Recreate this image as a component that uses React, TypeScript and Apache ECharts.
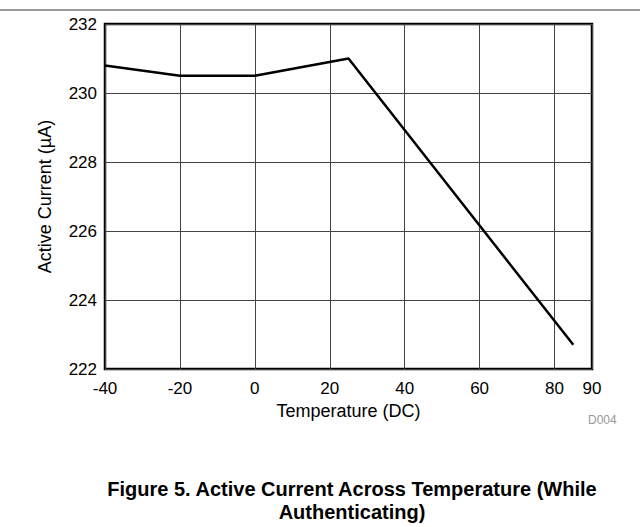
import React, { useEffect, useRef } from "react";
import * as echarts from "echarts";

const temperatures = [-40, -20, 0, 25, 85];
const activeCurrent = [230.8, 230.5, 230.5, 231.0, 222.7];
const xTicks = { min: -40, max: 90, interval: 20 };
const yTicks = { min: 222, max: 232, interval: 2 };
const titleLines = ["Figure 5. Active Current Across Temperature (While", "Authenticating)"];

export default function App() {
  const ref = useRef<HTMLDivElement>(null);
  useEffect(() => {
    if (!ref.current) return;
    const chart = echarts.init(ref.current, null, { renderer: "svg" });
    const font = "Arial, 'Liberation Sans', sans-serif";
    chart.setOption({
      animation: false,
      backgroundColor: "#ffffff",
      textStyle: { fontFamily: font },
      grid: { left: 105, right: 48, top: 24, bottom: 158, show: true, borderColor: "#000", borderWidth: 2.5, backgroundColor: "transparent" },
      xAxis: {
        type: "value",
        min: xTicks.min,
        max: xTicks.max,
        interval: xTicks.interval,
        name: "Temperature (DC)",
        nameLocation: "middle",
        nameGap: 32,
        nameTextStyle: { color: "#000", fontSize: 18, fontFamily: font },
        axisLine: { show: false },
        axisTick: { show: false },
        axisLabel: { color: "#000", fontSize: 17, margin: 11, fontFamily: font },
        splitLine: { show: true, lineStyle: { color: "#444", width: 1 } },
      },
      yAxis: {
        type: "value",
        min: yTicks.min,
        max: yTicks.max,
        interval: yTicks.interval,
        name: "Active Current (\u00b5A)",
        nameLocation: "middle",
        nameGap: 51,
        nameTextStyle: { color: "#000", fontSize: 18, fontFamily: font },
        axisLine: { show: false },
        axisTick: { show: false },
        axisLabel: { color: "#000", fontSize: 17, margin: 8, fontFamily: font },
        splitLine: { show: true, lineStyle: { color: "#444", width: 1 } },
      },
      series: [
        {
          type: "line",
          data: temperatures.map((t, i) => [t, activeCurrent[i]]),
          showSymbol: false,
          lineStyle: { color: "#000", width: 2.5 },
          itemStyle: { color: "#000" },
        },
      ],
      graphic: [
        { type: "line", shape: { x1: 0, y1: 10, x2: 640, y2: 10 }, style: { stroke: "#333", lineWidth: 1 } },
        { type: "text", x: 588, y: 414, style: { text: "D004", fill: "#999", fontSize: 12, fontFamily: font } },
        {
          type: "text",
          x: 352,
          y: 477,
          style: {
            text: titleLines.join("\n"),
            fill: "#000",
            fontSize: 20,
            fontWeight: "bold",
            fontFamily: font,
            align: "center",
            verticalAlign: "top",
            lineHeight: 23,
          },
        },
      ],
    });
    return () => chart.dispose();
  }, []);
  return <div ref={ref} style={{ position: "fixed", left: 0, top: 0, width: 640, height: 527 }} />;
}
